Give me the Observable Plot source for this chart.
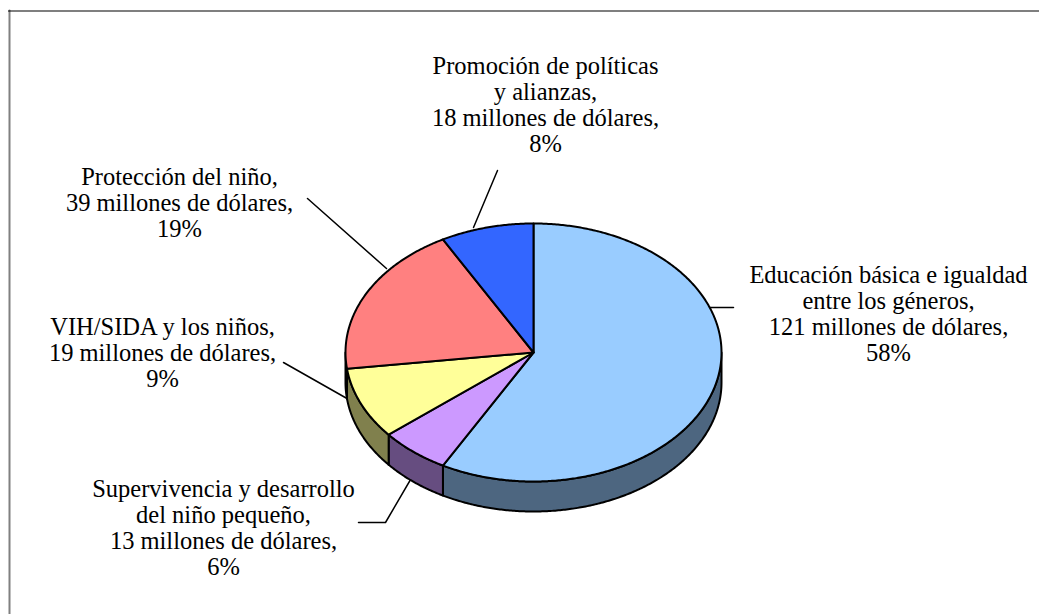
<!DOCTYPE html>
<html><head><meta charset="utf-8">
<script src="https://cdn.jsdelivr.net/npm/d3@7"></script>
<script src="https://cdn.jsdelivr.net/npm/@observablehq/plot@0.6"></script>
<style>body{margin:0;background:#fff} #chart svg{display:block} #chart text{font-family:"Liberation Serif","Times New Roman",serif !important}</style>
</head><body><div id="chart"></div>
<script>
// ---- data ----
const categories = [
  "Educación básica e igualdad entre los géneros",
  "Supervivencia y desarrollo del niño pequeño",
  "VIH/SIDA y los niños",
  "Protección del niño",
  "Promoción de políticas y alianzas"
];
const categoryLines = [
  ["Educación básica e igualdad", "entre los géneros,"],
  ["Supervivencia y desarrollo", "del niño pequeño,"],
  ["VIH/SIDA y los niños,"],
  ["Protección del niño,"],
  ["Promoción de políticas", "y alianzas,"]
];
const millions = [121, 13, 19, 39, 18];
const percents = [58, 6, 9, 19, 8];
const topColors = ["#99CCFF", "#CC99FF", "#FFFF99", "#FF8080", "#3366FF"];
const sideColors = ["#4D6680", "#664D80", "#80804D", "#804040", "#1A3380"];

// ---- layout ----
const W = 1039, H = 614;
const pie = {cx: 533, cy: 352, rx: 188, ry: 129, depth: 30};
const labelPos = [{x: 888, y: 282}, {x: 223, y: 496}, {x: 162, y: 334}, {x: 179, y: 184}, {x: 545, y: 73}];
const lineStep = 26.3;
const fontSize = 24.5;
const leaders = [
  [[707, 307], [733, 307]],
  [[420, 462], [385, 522], [358, 522]],
  [[350, 400], [283, 362]],
  [[386, 268], [307, 198]],
  [[473, 227], [497, 170]]
];

// ---- geometry from data ----
const arcs = d3.pie().value(d => d).sort(null)(percents);
const px = t => pie.cx + pie.rx * Math.sin(t);
const py = (t, dz = 0) => pie.cy - pie.ry * Math.cos(t) + dz;
function sample(a0, a1) {
  const n = Math.max(2, Math.ceil((a1 - a0) / (Math.PI / 360)));
  return d3.range(n + 1).map(k => a0 + (a1 - a0) * k / n);
}
const topPts = [], sidePts = [];
arcs.forEach((a, i) => {
  topPts.push({x: pie.cx, y: pie.cy, k: i, fill: topColors[i]});
  for (const t of sample(a.startAngle, a.endAngle)) topPts.push({x: px(t), y: py(t), k: i, fill: topColors[i]});
  const s0 = Math.max(a.startAngle, Math.PI / 2), s1 = Math.min(a.endAngle, 3 * Math.PI / 2);
  if (s1 > s0) {
    const ts = sample(s0, s1);
    for (const t of ts) sidePts.push({x: px(t), y: py(t), k: i, fill: sideColors[i]});
    for (const t of ts.slice().reverse()) sidePts.push({x: px(t), y: py(t, pie.depth), k: i, fill: sideColors[i]});
  }
});
const leaderPts = leaders.flatMap((pts, i) => pts.map(([x, y]) => ({x, y, k: i})));
const textRows = [];
categoryLines.forEach((lines, i) => {
  const all = [...lines, `${millions[i]} millones de dólares,`, `${percents[i]}%`];
  all.forEach((t, j) => textRows.push({x: labelPos[i].x, y: labelPos[i].y + j * lineStep, text: t}));
});
const frameTop = [{x: 8, y: 10.5}, {x: W, y: 10.5}];
const frameLeft = [{x: 9, y: 10}, {x: 9, y: H}];

const chart = Plot.plot({
  width: W, height: H, margin: 0,
  x: {domain: [0, W], range: [0, W], axis: null},
  y: {domain: [0, H], range: [0, H], axis: null},
  color: {type: "identity"},
  style: {background: "#fff", fontFamily: "'Liberation Serif', 'Times New Roman', serif"},
  marks: [
    Plot.line(frameLeft, {x: "x", y: "y", stroke: "#808080", strokeWidth: 2}),
    Plot.line(frameTop, {x: "x", y: "y", stroke: "#000", strokeWidth: 1.2}),
    Plot.line(leaderPts, {x: "x", y: "y", z: "k", stroke: "#000", strokeWidth: 1.5}),
    Plot.line(sidePts, {x: "x", y: "y", z: "k", fill: "fill", stroke: "#000", strokeWidth: 2, curve: "linear-closed", strokeLinejoin: "round"}),
    Plot.line(topPts, {x: "x", y: "y", z: "k", fill: "fill", stroke: "#000", strokeWidth: 2, curve: "linear-closed", strokeLinejoin: "round"}),
    Plot.text(textRows, {x: "x", y: "y", text: "text", fontSize, fontFamily: "'Liberation Serif', 'Times New Roman', serif", textAnchor: "middle", lineAnchor: "bottom", fill: "#000"})
  ]
});
document.getElementById("chart").append(chart);
</script>
</body></html>
